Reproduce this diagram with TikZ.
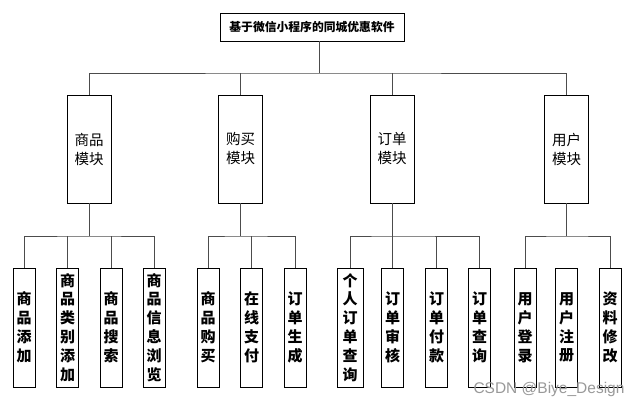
\documentclass[tikz,border=0pt]{standalone}
\usepackage{fontspec}
\newfontfamily\cjk{Noto Sans CJK SC}
\newfontfamily\wmfont{Liberation Sans}
\begin{document}
\begin{tikzpicture}[x=1pt,y=-1pt,
  box/.style={draw=black,line width=0.9pt,inner sep=0pt,align=center},
  topbox/.style={box,minimum width=184pt,minimum height=28pt,font={\cjk\bfseries\fontsize{11.8}{14}\selectfont}},
  modbox/.style={box,minimum width=44pt,minimum height=108pt,font={\cjk\fontsize{14.5}{19}\selectfont}},
  leaf/.style={box,minimum width=22pt,minimum height=119pt,font={\cjk\bfseries\fontsize{15}{18.9}\selectfont}},
  conn/.style={draw=black!70,line width=1pt}]
\useasboundingbox (0,0) rectangle (641,407);
\fill[white] (0,0) rectangle (641,407);
% top
\node[topbox] (top) at (312,27) {基于微信小程序的同城优惠软件};
% modules
\node[modbox] (m1) at (89,149) {商品\\模块};
\node[modbox] (m2) at (240.5,149) {购买\\模块};
\node[modbox] (m3) at (392,149) {订单\\模块};
\node[modbox] (m4) at (566.5,149) {用户\\模块};
% leaves
\node[leaf] (l1) at (24,327.5) {商\\品\\添\\加};
\node[leaf] (l2) at (67.5,327.5) {商\\品\\类\\别\\添\\加};
\node[leaf] (l3) at (111,327.5) {商\\品\\搜\\索};
\node[leaf] (l4) at (154,327.5) {商\\品\\信\\息\\浏\\览};
\node[leaf] (l5) at (208,327.5) {商\\品\\购\\买};
\node[leaf] (l6) at (251.5,327.5) {在\\线\\支\\付};
\node[leaf] (l7) at (295,327.5) {订\\单\\生\\成};
\node[leaf,minimum width=26pt] (l8) at (350,327.5) {个\\人\\订\\单\\查\\询};
\node[leaf] (l9) at (392.5,327.5) {订\\单\\审\\核};
\node[leaf] (l10) at (436.5,327.5) {订\\单\\付\\款};
\node[leaf] (l11) at (479.5,327.5) {订\\单\\查\\询};
\node[leaf] (l12) at (525,327.5) {用\\户\\登\\录};
\node[leaf] (l13) at (566.5,327.5) {用\\户\\注\\册};
\node[leaf] (l14) at (610,327.5) {资\\料\\修\\改};
% bus coordinates
\coordinate (b0) at (319,73);
\coordinate (c1) at (89,236);
\coordinate (c2) at (240.5,236);
\coordinate (c3) at (392,236);
\coordinate (c4) at (566.5,236);
% top level connectors
\draw[conn] (top.south -| b0) -- (b0);
\draw[conn] (m1.north) |- (b0) -| (m4.north);
\draw[conn] (m2.north) -- (m2.north |- b0);
\draw[conn] (m3.north) -- (m3.north |- b0);
% group 1
\draw[conn] (m1.south) -- (c1);
\draw[conn] (l1.north) |- (c1) -| (l4.north);
\draw[conn] (l2.north) -- (l2.north |- c1);
\draw[conn] (l3.north) -- (l3.north |- c1);
% group 2
\draw[conn] (m2.south) -- (c2);
\draw[conn] (l5.north) |- (c2) -| (l7.north);
\draw[conn] (l6.north) -- (l6.north |- c2);
% group 3
\draw[conn] (m3.south) -- (c3);
\draw[conn] (l8.north) |- (c3) -| (l11.north);
\draw[conn] (l9.north) -- (l9.north |- c3);
\draw[conn] (l10.north) -- (l10.north |- c3);
% group 4
\draw[conn] (m4.south) -- (c4);
\draw[conn] (l12.north) |- (c4) -| (l14.north);
% watermark
\node[font={\wmfont\fontsize{15.5}{15.5}\selectfont},text=black!40,inner sep=0pt] (wm) at (549,389) {CSDN @Biye\_Design};
\end{tikzpicture}
\end{document}
